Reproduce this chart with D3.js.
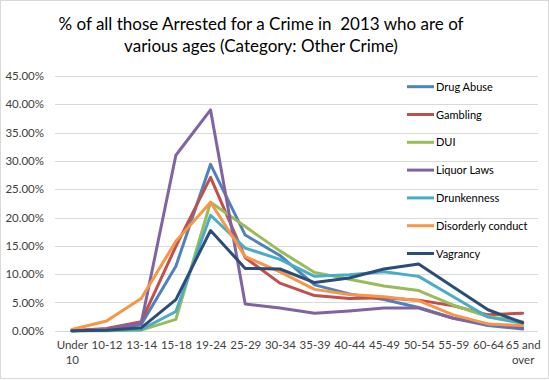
<!DOCTYPE html>
<html><head><meta charset="utf-8">
<script src="https://cdn.jsdelivr.net/npm/d3@7"></script>
<style>
body{margin:0;background:#fff;}
svg{display:block;font-family:Lato, "Liberation Sans", sans-serif;}
</style></head>
<body><svg id="c" width="549" height="380"></svg>
<script>
const categories = ["Under 10","10-12","13-14","15-18","19-24","25-29","30-34","35-39","40-44","45-49","50-54","55-59","60-64","65 and over"];
const yTicks = [0,0.05,0.10,0.15,0.20,0.25,0.30,0.35,0.40,0.45];
const seriesNames = ["Drug Abuse","Gambling","DUI","Liquor Laws","Drunkenness","Disorderly conduct","Vagrancy"];
const drugAbuse   = [0.0,0.2,1.1,11.4,29.4,16.9,13.3,8.1,6.5,5.5,4.1,2.2,0.9,0.3];
const gambling    = [0.0,0.4,1.6,14.9,27.1,12.9,8.4,6.2,5.7,5.8,5.4,4.4,2.8,3.1];
const dui         = [0.0,0.0,0.1,2.0,22.7,18.4,14.1,10.3,9.1,7.9,7.1,4.5,2.5,1.6];
const liquorLaws  = [0.0,0.2,1.3,31.0,39.0,4.7,4.0,3.1,3.5,4.0,4.0,2.2,1.2,0.5];
const drunkenness = [0.0,0.1,0.2,3.4,20.4,14.6,12.6,9.6,9.9,10.4,9.6,6.0,2.4,1.3];
const disorderly  = [0.2,1.7,5.7,15.8,22.7,13.1,10.4,7.3,6.4,6.0,5.3,2.8,1.2,0.9];
const vagrancy    = [0.0,0.1,0.5,5.5,17.7,11.0,10.9,8.5,9.3,10.9,11.8,7.7,3.7,1.4];
const seriesValues = [drugAbuse,gambling,dui,liquorLaws,drunkenness,disorderly,vagrancy];
const colors = ["#4F81BD","#C0504D","#9BBB59","#8064A2","#4BACC6","#F79646","#2C4D75"];

const svg = d3.select("#c");
svg.append("rect").attr("x",0.5).attr("y",0.5).attr("width",548).attr("height",378)
  .attr("fill","#fff").attr("stroke","#D9D9D9");

const x = d3.scalePoint().domain(categories).range([54.5,540]).padding(0.5);
const y = d3.scaleLinear().domain([0,0.45]).range([330.7,76]);

// gridlines
svg.append("g").selectAll("line").data(yTicks).join("line")
  .attr("x1",55).attr("x2",538)
  .attr("y1",d=>Math.round(y(d))+0.5).attr("y2",d=>Math.round(y(d))+0.5)
  .attr("stroke","#D9D9D9").attr("stroke-width",1);

// y axis
const yAxis = svg.append("g").attr("transform","translate(46,0)")
  .call(d3.axisLeft(y).tickValues(yTicks).tickFormat(d=>(d*100).toFixed(2)+"%").tickSize(0).tickPadding(2));
yAxis.select(".domain").remove();
yAxis.selectAll("text").attr("font-size","11.5px").attr("fill","#404040").attr("font-family","Lato");

// x axis
const xAxis = svg.append("g").attr("transform","translate(0,341)")
  .call(d3.axisBottom(x).tickSize(0).tickPadding(0));
xAxis.select(".domain").remove();
xAxis.selectAll("text").attr("font-size","11.5px").attr("fill","#404040").attr("font-family","Lato")
  .each(function(d){
    const t = d3.select(this);
    const words = d.split(" ");
    if (words.length>1){
      t.text(null);
      const first = words.slice(0,words.length-1).join(" "), last = words[words.length-1];
      t.append("tspan").attr("x",0).attr("dy","0.71em").text(first);
      t.append("tspan").attr("x",0).attr("dy","1.3em").text(last);
    }
  });

// lines
const line = d3.line().x((d,i)=>x(categories[i])).y(d=>y(d/100));
svg.append("g").selectAll("path").data(seriesValues).join("path")
  .attr("d",d=>line(d)).attr("fill","none")
  .attr("stroke",(d,i)=>colors[i]).attr("stroke-width",3)
  .attr("stroke-linejoin","round").attr("stroke-linecap","round");

// legend
const lg = svg.append("g").selectAll("g").data(seriesNames).join("g")
  .attr("transform",(d,i)=>`translate(407,${86.7+i*27.8})`);
lg.append("line").attr("x1",0).attr("x2",27).attr("y1",0).attr("y2",0)
  .attr("stroke",(d,i)=>colors[i]).attr("stroke-width",3);
lg.append("text").attr("x",29).attr("y",4).attr("font-size","11px").attr("fill","#000")
  .attr("font-family","Lato").text(d=>d);

// title
const title = svg.append("text").attr("x",261).attr("y",30).attr("text-anchor","middle")
  .attr("font-size","17px").attr("fill","#000").attr("font-family","Lato");
title.append("tspan").attr("x",261).text("% of all those Arrested for a Crime in\u00a0 2013 who are of");
title.append("tspan").attr("x",261).attr("dy",22).text("various ages (Category: Other Crime)");
</script></body></html>
